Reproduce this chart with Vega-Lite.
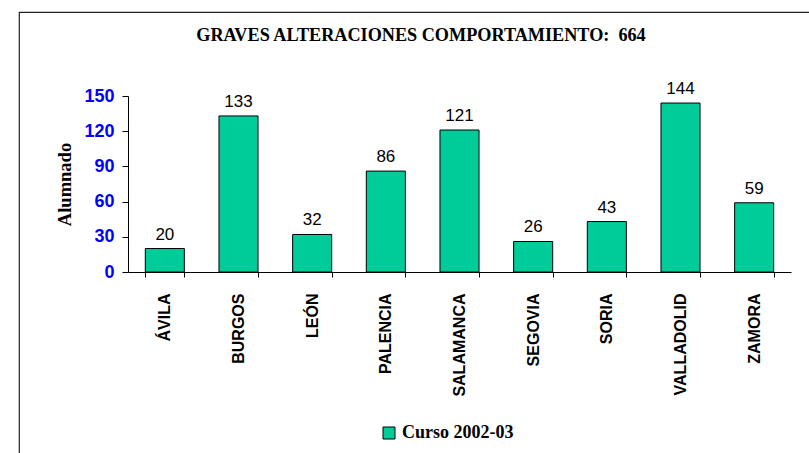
{
  "$schema": "https://vega.github.io/schema/vega-lite/v6.json",
  "width": 800,
  "height": 450,
  "autosize": {"type": "none"},
  "padding": {"left": 19, "top": 12, "right": -10, "bottom": -9},
  "background": "white",
  "config": {
    "view": {"stroke": "#222222", "strokeWidth": 1.2, "fill": null},
    "axis": {"grid": false, "domainColor": "black", "tickColor": "black"}
  },
  "title": {
    "text": "GRAVES ALTERACIONES COMPORTAMIENTO:\u00a0 664",
    "font": "Liberation Serif",
    "fontSize": 18.2,
    "fontWeight": "bold",
    "color": "black",
    "anchor": "middle",
    "baseline": "alphabetic",
    "offset": -47,
    "dx": 2
  },
  "data": {
    "values": [
      {"provincia": "ÁVILA", "alumnado": 20, "serie": "Curso 2002-03"},
      {"provincia": "BURGOS", "alumnado": 133, "serie": "Curso 2002-03"},
      {"provincia": "LEÓN", "alumnado": 32, "serie": "Curso 2002-03"},
      {"provincia": "PALENCIA", "alumnado": 86, "serie": "Curso 2002-03"},
      {"provincia": "SALAMANCA", "alumnado": 121, "serie": "Curso 2002-03"},
      {"provincia": "SEGOVIA", "alumnado": 26, "serie": "Curso 2002-03"},
      {"provincia": "SORIA", "alumnado": 43, "serie": "Curso 2002-03"},
      {"provincia": "VALLADOLID", "alumnado": 144, "serie": "Curso 2002-03"},
      {"provincia": "ZAMORA", "alumnado": 59, "serie": "Curso 2002-03"}
    ]
  },
  "encoding": {
    "x": {
      "field": "provincia",
      "type": "nominal",
      "sort": null,
      "scale": {"range": [109, 772], "paddingInner": 0.47, "paddingOuter": 0.235},
      "axis": {
        "title": null,
        "offset": -190,
        "labelAngle": -90,
        "labelFont": "Liberation Sans",
        "labelFontSize": 16,
        "labelFontWeight": "bold",
        "labelColor": "black",
        "labelPadding": 16,
        "labelOverlap": false,
        "tickSize": 5,
        "tickBand": "extent"
      }
    },
    "y": {
      "field": "alumnado",
      "type": "quantitative",
      "scale": {"domain": [0, 150], "range": [260, 84], "nice": false},
      "axis": {
        "title": "Alumnado",
        "offset": -109,
        "values": [0, 30, 60, 90, 120, 150],
        "labelFont": "Liberation Sans",
        "labelFontSize": 18,
        "labelFontWeight": "bold",
        "labelColor": "#0000FF",
        "labelPadding": 8,
        "tickSize": 6,
        "titleFont": "Liberation Serif",
        "titleFontSize": 18.5,
        "titleFontWeight": "bold",
        "titleColor": "black",
        "titlePadding": 9
      }
    }
  },
  "layer": [
    {
      "mark": {"type": "bar", "stroke": "black", "strokeWidth": 1},
      "encoding": {
        "color": {
          "field": "serie",
          "type": "nominal",
          "scale": {"range": ["#00CC99"]},
          "legend": {
            "title": null,
            "orient": "none",
            "legendX": 361,
            "legendY": 412,
            "symbolType": "square",
            "symbolSize": 144,
            "symbolStrokeColor": "black",
            "symbolStrokeWidth": 1,
            "symbolOpacity": 1,
            "labelFont": "Liberation Serif",
            "labelFontSize": 18,
            "labelFontWeight": "bold",
            "labelColor": "black",
            "labelOffset": 4
          }
        }
      }
    },
    {
      "mark": {
        "type": "text",
        "baseline": "alphabetic",
        "dy": -9,
        "font": "Liberation Sans",
        "fontSize": 17,
        "color": "black"
      },
      "encoding": {"text": {"field": "alumnado", "type": "quantitative"}}
    }
  ]
}
